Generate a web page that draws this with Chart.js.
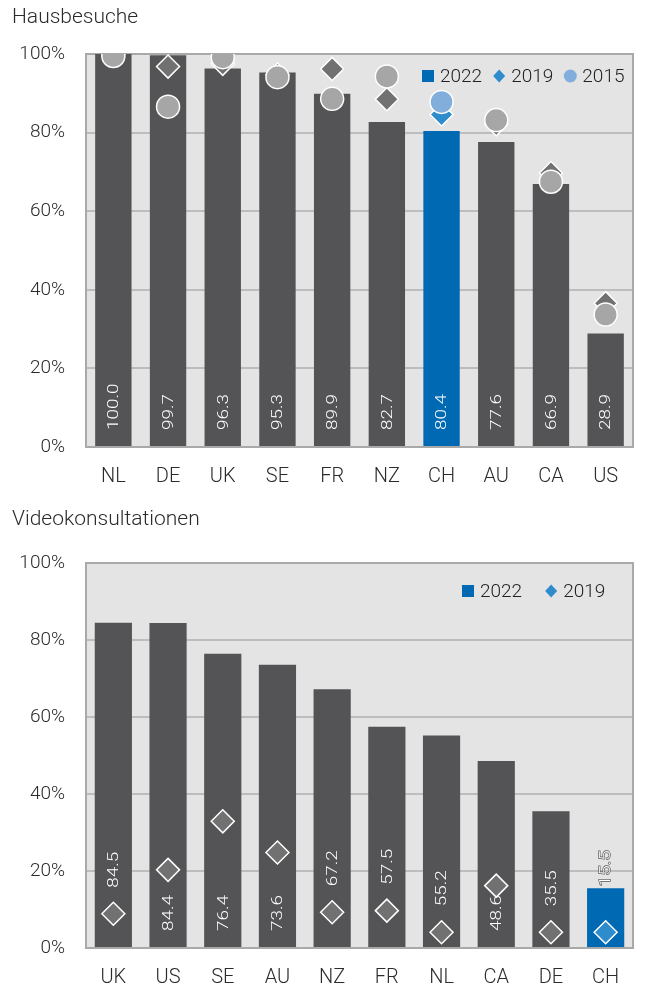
<!DOCTYPE html>
<html>
<head>
<meta charset="utf-8">
<script src="https://cdn.jsdelivr.net/npm/chart.js@4.4.1/dist/chart.umd.min.js"></script>
<style>
body { margin: 0; background: #fff; width: 646px; height: 989px; position: relative; overflow: hidden; font-family: Roboto, sans-serif; }
canvas { position: absolute; left: 0; }
.title { position: absolute; left: 12px; font-size: 21px; font-weight: 300; color: #2b2b2b; line-height: 24px; }
</style>
</head>
<body>
<canvas id="homeChart" width="646" height="495" style="top:0"></canvas>
<canvas id="videoChart" width="646" height="494" style="top:495px"></canvas>
<div class="title" style="top:4px">Hausbesuche</div>
<div class="title" style="top:506px">Videokonsultationen</div>
<script>
// Hausbesuche
const homeCountries = ['NL', 'DE', 'UK', 'SE', 'FR', 'NZ', 'CH', 'AU', 'CA', 'US'];
const home2022 = [100.0, 99.7, 96.3, 95.3, 89.9, 82.7, 80.4, 77.6, 66.9, 28.9];
const home2019 = [100, 96.8, 97.5, 94.8, 96.2, 88.5, 84.6, 82.1, 69.7, 36.6];
const home2015 = [99.5, 86.6, 99.2, 94.1, 88.6, 94.3, 87.8, 83.2, 67.5, 33.7];

// Videokonsultationen
const videoCountries = ['UK', 'US', 'SE', 'AU', 'NZ', 'FR', 'NL', 'CA', 'DE', 'CH'];
const video2022 = [84.5, 84.4, 76.4, 73.6, 67.2, 57.5, 55.2, 48.6, 35.5, 15.5];
const video2019 = [8.9, 20.3, 32.9, 24.8, 9.3, 9.7, 4.1, 16.2, 4.1, 4.1];

const yTicks = [0, 20, 40, 60, 80, 100];

const FONT = '300 19px Roboto';
const BAR_GREY = '#545456';
const BAR_BLUE = '#0069b4';
const DIAMOND_GREY = '#717171';
const DIAMOND_BLUE = '#2e8bcc';
const CIRCLE_GREY = '#a6a6a6';
const CIRCLE_BLUE = '#82aedb';

const pick = (countries, blue, grey) => countries.map(c => c === 'CH' ? blue : grey);

const plotFrame = {
    id: 'plotFrame',
    beforeDraw(chart) {
        const { ctx, chartArea: a } = chart;
        ctx.save();
        ctx.fillStyle = '#e4e4e4';
        ctx.fillRect(a.left, a.top, a.right - a.left, a.bottom - a.top);
        ctx.restore();
    },
    beforeDatasetsDraw(chart) {
        const { ctx, chartArea: a } = chart;
        ctx.save();
        ctx.strokeStyle = '#a9a9a9';
        ctx.lineWidth = 2;
        ctx.strokeRect(a.left, a.top, a.right - a.left, a.bottom - a.top);
        ctx.restore();
    }
};

// value labels, thin and drawn upwards from the bottom of the bar
const barValues = {
    id: 'barValues',
    afterDatasetDraw(chart, args, opts) {
        if (args.index !== 0) return;
        const { ctx } = chart;
        const y = chart.scales.y;
        const zero = y.getPixelForValue(0);
        const marks = opts.dodge ? chart.data.datasets[1].data : null;
        const values = chart.data.datasets[0].data;
        const stretch = 1.26;
        ctx.save();
        ctx.font = '300 15px Roboto';
        ctx.textBaseline = 'middle';
        ctx.textAlign = 'left';
        args.meta.data.forEach((bar, i) => {
            const text = values[i].toFixed(1);
            const w = ctx.measureText(text).width * stretch;
            let base = zero - 17;
            if (marks && marks[i] < 12) base = y.getPixelForValue(marks[i]) - 26;
            const inside = base - w > bar.y + 2;
            if (!inside) base = bar.y - 2;
            ctx.save();
            ctx.translate(bar.x, base);
            ctx.rotate(-Math.PI / 2);
            ctx.scale(stretch, 1);
            if (!inside) {
                ctx.strokeStyle = '#555';
                ctx.lineWidth = 1.3;
                ctx.strokeText(text, 0, 1);
            }
            ctx.fillStyle = '#fff';
            ctx.fillText(text, 0, 1);
            ctx.restore();
        });
        ctx.restore();
    }
};

const markLegend = {
    id: 'markLegend',
    afterDraw(chart, args, opts) {
        const { ctx, chartArea: a } = chart;
        ctx.save();
        ctx.font = FONT;
        ctx.textBaseline = 'middle';
        ctx.textAlign = 'left';
        let x = a.left + opts.left;
        const y = a.top + opts.dy;
        chart.data.datasets.forEach(ds => {
            ctx.fillStyle = ds.legendColor;
            ctx.beginPath();
            if (ds.legendShape === 'rect') {
                ctx.rect(x, y - 6, 12, 12);
            } else if (ds.legendShape === 'rectRot') {
                ctx.moveTo(x, y);
                ctx.lineTo(x + 6, y - 6.5);
                ctx.lineTo(x + 12, y);
                ctx.lineTo(x + 6, y + 6.5);
                ctx.closePath();
            } else {
                ctx.arc(x + 6, y, 6.5, 0, Math.PI * 2);
            }
            ctx.fill();
            x += 18;
            ctx.fillStyle = '#222';
            ctx.fillText(ds.label, x, y + 1);
            x += ctx.measureText(ds.label).width + opts.gap;
        });
        ctx.restore();
    }
};

function buildOptions(padTop, padRight, xHeight, legendOpts, dodge) {
    return {
        responsive: false,
        animation: false,
        events: [],
        layout: { padding: { top: padTop, right: padRight, left: 0, bottom: 0 } },
        plugins: {
            legend: { display: false },
            tooltip: { enabled: false },
            markLegend: legendOpts,
            barValues: { dodge: dodge }
        },
        scales: {
            x: {
                grid: { display: false, drawTicks: false },
                border: { display: false },
                ticks: { color: '#2b2b2b', font: { family: 'Roboto', weight: 300, size: 20 }, padding: 18 },
                afterFit: s => { s.height = xHeight; }
            },
            y: {
                min: 0,
                max: 100,
                afterBuildTicks: s => { s.ticks = yTicks.map(v => ({ value: v })); },
                grid: {
                    color: c => (c.tick.value === 0 || c.tick.value === 100) ? 'rgba(0,0,0,0)' : '#bdbdbd',
                    lineWidth: 2,
                    drawTicks: false
                },
                border: { display: false },
                ticks: {
                    color: '#2b2b2b',
                    font: { family: 'Roboto', weight: 300, size: 19 },
                    padding: 21,
                    callback: v => v + '%'
                },
                afterFit: s => { s.width = 86; }
            }
        }
    };
}

new Chart(document.getElementById('homeChart'), {
    type: 'bar',
    data: {
        labels: homeCountries,
        datasets: [{
            label: '2022',
            data: home2022,
            backgroundColor: pick(homeCountries, BAR_BLUE, BAR_GREY),
            categoryPercentage: 1,
            barPercentage: 0.665,
            order: 2,
            legendShape: 'rect',
            legendColor: BAR_BLUE
        }, {
            type: 'line',
            label: '2019',
            data: home2019,
            showLine: false,
            pointStyle: 'rectRot',
            pointRadius: 11.5,
            pointBackgroundColor: pick(homeCountries, DIAMOND_BLUE, DIAMOND_GREY),
            pointBorderColor: '#fff',
            pointBorderWidth: 1.5,
            order: 1,
            legendShape: 'rectRot',
            legendColor: DIAMOND_BLUE
        }, {
            type: 'line',
            label: '2015',
            data: home2015,
            showLine: false,
            pointStyle: 'circle',
            pointRadius: 11.5,
            pointBackgroundColor: pick(homeCountries, CIRCLE_BLUE, CIRCLE_GREY),
            pointBorderColor: '#fff',
            pointBorderWidth: 1.5,
            order: 0,
            legendShape: 'circle',
            legendColor: CIRCLE_BLUE
        }]
    },
    options: buildOptions(54, 3, 48, { left: 336, dy: 22, gap: 11 }, false),
    plugins: [plotFrame, barValues, markLegend]
});

new Chart(document.getElementById('videoChart'), {
    type: 'bar',
    data: {
        labels: videoCountries,
        datasets: [{
            label: '2022',
            data: video2022,
            backgroundColor: pick(videoCountries, BAR_BLUE, BAR_GREY),
            categoryPercentage: 1,
            barPercentage: 0.68,
            order: 2,
            legendShape: 'rect',
            legendColor: BAR_BLUE
        }, {
            type: 'line',
            label: '2019',
            data: video2019,
            showLine: false,
            pointStyle: 'rectRot',
            pointRadius: 11.5,
            pointBackgroundColor: pick(videoCountries, DIAMOND_BLUE, DIAMOND_GREY),
            pointBorderColor: '#fff',
            pointBorderWidth: 1.5,
            order: 1,
            legendShape: 'rectRot',
            legendColor: DIAMOND_BLUE
        }]
    },
    options: buildOptions(68, 1, 41, { left: 376, dy: 28, gap: 23 }, true),
    plugins: [plotFrame, barValues, markLegend]
});
</script>
</body>
</html>
